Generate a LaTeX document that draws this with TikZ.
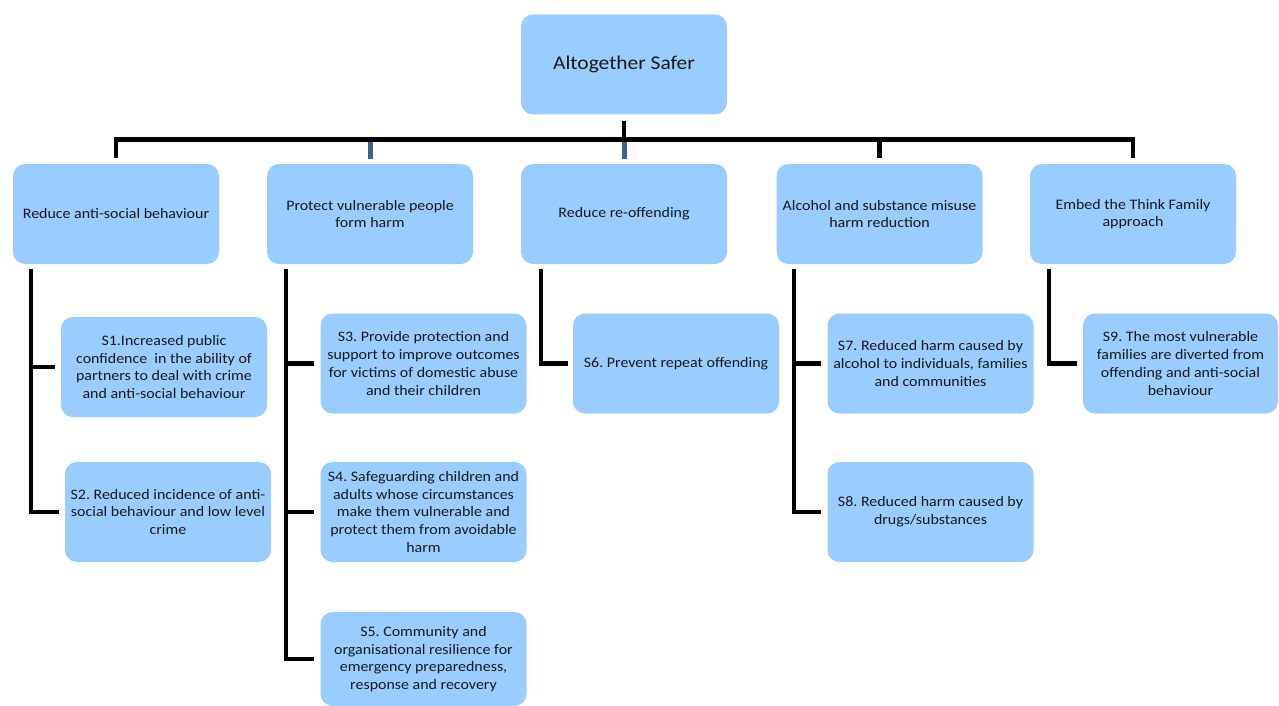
\documentclass[tikz,border=0pt]{standalone}
\usepackage{fontspec}
\setmainfont{Carlito}[FakeStretch=1.1]
\definecolor{boxfill}{HTML}{99CCFF}
\definecolor{dropblue}{HTML}{3D6394}
\definecolor{txt}{HTML}{1A1A1A}
\frenchspacing
\begin{document}
\begin{tikzpicture}[x=1pt,y=-1pt,
  box/.style={draw=none,fill=boxfill,rounded corners=12pt,minimum width=206pt,minimum height=100pt,
    align=center,font=\fontsize{14.5}{17.7}\selectfont,text=txt,inner sep=0pt},
  conn/.style={line width=4.5pt,black},
  bconn/.style={line width=5pt,dropblue}]
\clip (0,0) rectangle (1279,706);
\fill[white] (0,0) rectangle (1279,706);
% top
\node[box,font=\fontsize{19.5}{23}\selectfont] (top) at (624,64.5) {Altogether Safer};
% level 1
\node[box] (L1) at (116,214) {Reduce anti-social behaviour};
\node[box] (L2) at (370,214) {Protect vulnerable people\\form harm};
\node[box] (L3) at (624,214) {Reduce re-offending};
\node[box] (L4) at (879.5,214) {Alcohol and substance misuse\\harm reduction};
\node[box] (L5) at (1133,214) {Embed the Think Family\\approach};
% level 2
\node[box] (S1) at (164,367) {S1.Increased public\\confidence \ in the ability of\\partners to deal with crime\\and anti-social behaviour};
\node[box] (S2) at (168,512) {S2. Reduced incidence of anti-\\social behaviour and low level\\crime};
\node[box] (S3) at (423.5,363.5) {S3. Provide protection and\\support to improve outcomes\\for victims of domestic abuse\\and their children};
\node[box] (S4) at (423.5,512) {S4. Safeguarding children and\\adults whose circumstances\\make them vulnerable and\\protect them from avoidable\\harm};
\node[box,minimum height=94pt] (S5) at (423.5,659) {S5. Community and\\organisational resilience for\\emergency preparedness,\\response and recovery};
\node[box] (S6) at (676,363.5) {S6. Prevent repeat offending};
\node[box] (S7) at (930.5,363.5) {S7. Reduced harm caused by\\alcohol to individuals, families\\and communities};
\node[box] (S8) at (930.5,512) {S8. Reduced harm caused by\\drugs/substances};
\node[box,minimum width=195pt] (S9) at (1180.5,363.5) {S9. The most vulnerable\\families are diverted from\\offending and anti-social\\behaviour};
% bus
\coordinate (bus) at (624,139.5);
\draw[conn] ([yshift=-6pt]top.south) -- (top.south |- bus);
\draw[conn] ([xshift=-2.25pt]L1.north |- bus) -- ([xshift=2.25pt]L5.north |- bus);
\draw[conn] (L1.north |- bus) -- ([yshift=6pt]L1.north);
\draw[bconn] ([yshift=-2.5pt]L2.north |- bus) -- ([yshift=5pt]L2.north);
\draw[bconn] ([yshift=-2.5pt]L3.north |- bus) -- ([yshift=5pt]L3.north);
\draw[conn] (L4.north |- bus) -- ([yshift=6pt]L4.north);
\draw[conn] (L5.north |- bus) -- ([yshift=6pt]L5.north);
% columns
\coordinate (c1) at (31,269);
\coordinate (c2) at (286,269);
\coordinate (c3) at (541,269);
\coordinate (c4) at (794,269);
\coordinate (c5) at (1049,269);
\draw[conn] (c1) |- ([xshift=-6pt]S2.west);
\draw[conn] (c1 |- S1.west) -- ([xshift=-6pt]S1.west);
\draw[conn] (c2) |- ([xshift=-6pt]S5.west);
\draw[conn] (c2 |- S3.west) -- ([xshift=-6pt]S3.west);
\draw[conn] (c2 |- S4.west) -- ([xshift=-6pt]S4.west);
\draw[conn] (c3) |- ([xshift=-5pt]S6.west);
\draw[conn] (c4) |- ([xshift=-6pt]S8.west);
\draw[conn] (c4 |- S7.west) -- ([xshift=-6pt]S7.west);
\draw[conn] (c5) |- ([xshift=-6pt]S9.west);
\end{tikzpicture}
\end{document}
